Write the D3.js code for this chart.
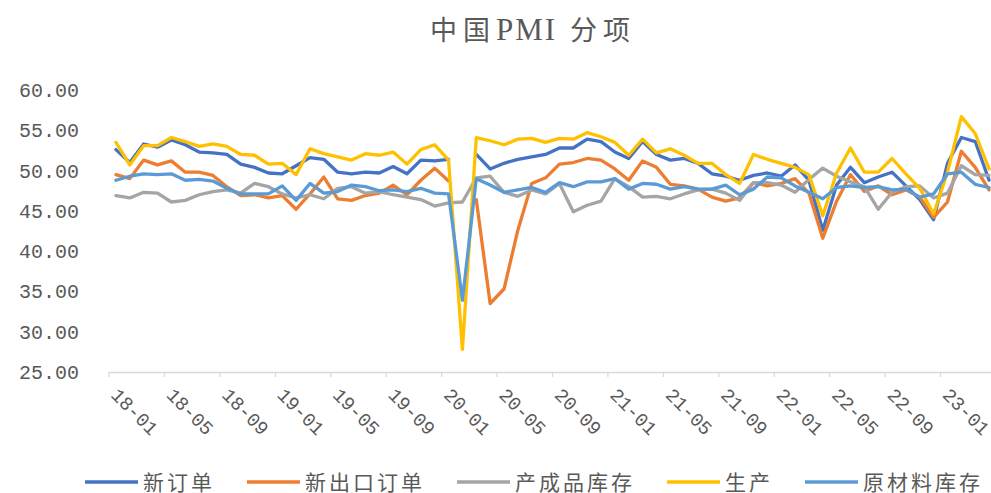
<!DOCTYPE html>
<html>
<head>
<meta charset="utf-8">
<script src="https://cdn.jsdelivr.net/npm/d3@7"></script>
<style>
  body { margin: 0; background: #fff; }
  svg { display: block; }
</style>
</head>
<body>
<script>
// monthly categories, 2018-01 .. 2023-04
var months = d3.timeMonth.range(new Date(2018, 0, 1), new Date(2023, 4, 1)).map(d3.timeFormat('%y-%m'));

var seriesNames = ['新订单', '新出口订单', '产成品库存', '生产', '原材料库存'];
var seriesColors = ['#4472C4', '#ED7D31', '#A5A5A5', '#FFC000', '#5B9BD5'];

var newOrders = [
  52.6, 51.0, 53.3, 52.9, 53.8, 53.2, 52.3, 52.2, 52.0, 50.8, 50.4, 49.7,
  49.6, 50.6, 51.6, 51.4, 49.8, 49.6, 49.8, 49.7, 50.5, 49.6, 51.3, 51.2,
  51.4, null, 52.0, 50.2, 50.9, 51.4, 51.7, 52.0, 52.8, 52.8, 53.9, 53.6,
  52.3, 51.5, 53.6, 52.0, 51.3, 51.5, 50.9, 49.6, 49.3, 48.8, 49.4, 49.7,
  49.3, 50.7, 48.8, 42.6, 48.2, 50.4, 48.5, 49.2, 49.8, 48.1, 46.4, 43.9,
  50.9, 54.1, 53.6, 48.8
];
var newExportOrders = [
  49.5, 49.0, 51.3, 50.7, 51.2, 49.8, 49.8, 49.4, 48.0, 46.9, 47.0, 46.6,
  46.9, 45.2, 47.1, 49.2, 46.5, 46.3, 46.9, 47.2, 48.2, 47.0, 48.8, 50.3,
  48.7, null, 46.4, 33.5, 35.3, 42.6, 48.4, 49.1, 50.8, 51.0, 51.5, 51.3,
  50.2, 48.8, 51.2, 50.4, 48.3, 48.1, 47.7, 46.7, 46.2, 46.6, 48.5, 48.1,
  48.4, 49.0, 47.2, 41.6, 46.2, 49.5, 47.4, 48.1, 47.0, 47.6, 46.7, 44.2,
  46.1, 52.4, 50.4, 47.6
];
var finishedStock = [
  46.9, 46.6, 47.3, 47.2, 46.1, 46.3, 47.0, 47.4, 47.6, 47.2, 48.4, 48.0,
  47.1, 46.6, 47.0, 46.5, 47.8, 48.0, 47.2, 47.4, 47.0, 46.7, 46.4, 45.6,
  46.0, 46.1, 49.1, 49.3, 47.3, 46.8, 47.6, 47.1, 48.4, 44.9, 45.7, 46.2,
  49.0, 48.0, 46.7, 46.8, 46.5, 47.1, 47.6, 47.7, 47.2, 46.3, 48.5, 48.5,
  48.2, 47.3, 48.9, 50.3, 49.3, 48.6, 48.0, 45.2, 47.3, 48.0, 48.1, 46.6,
  47.2, 50.6, 49.5, 49.4
];
var production = [
  53.5, 50.7, 53.1, 53.1, 54.1, 53.6, 53.0, 53.3, 53.0, 52.0, 51.9, 50.8,
  50.9, 49.5, 52.7, 52.1, 51.7, 51.3, 52.1, 51.9, 52.3, 50.8, 52.6, 53.2,
  51.3, 27.8, 54.1, 53.7, 53.2, 53.9, 54.0, 53.5, 54.0, 53.9, 54.7, 54.2,
  53.5, 51.9, 53.9, 52.2, 52.7, 51.9, 50.9, 50.9, 49.5, 48.4, 52.0, 51.4,
  50.9, 50.4, 49.5, 44.4, 49.7, 52.8, 49.8, 49.8, 51.5, 49.6, 47.8, 44.6,
  49.8, 56.7, 54.6, 50.2
];
var rawStock = [
  48.8, 49.3, 49.6, 49.5, 49.6, 48.8, 48.9, 48.7, 47.8, 47.1, 47.1, 47.1,
  48.1, 46.3, 48.4, 47.2, 47.4, 48.2, 48.0, 47.5, 47.6, 47.4, 47.8, 47.2,
  47.1, 33.9, 49.0, 48.2, 47.3, 47.6, 47.9, 47.3, 48.5, 48.0, 48.6, 48.6,
  49.0, 47.7, 48.4, 48.3, 47.7, 48.0, 47.7, 47.7, 48.2, 47.0, 47.7, 49.2,
  49.1, 48.1, 47.3, 46.5, 47.9, 48.1, 47.9, 48.0, 47.6, 47.7, 46.7, 47.1,
  49.6, 49.8, 48.3, 47.9
];
var yTicks = [25, 30, 35, 40, 45, 50, 55, 60];

var allSeries = [newOrders, newExportOrders, finishedStock, production, rawStock];

var width = 991, height = 493;
var plotLeft = 109, plotRight = 996, plotTop = 90, plotBottom = 372;
var textColor = '#595959';
var monoFont = '"Liberation Mono", "DejaVu Sans Mono", monospace';
var cjkFont = '"Liberation Serif", "Noto Sans CJK SC", serif';

var svg = d3.select('body').append('svg')
  .attr('width', width)
  .attr('height', height);

var x = d3.scaleBand().domain(months).range([plotLeft, plotRight]).padding(0);
var y = d3.scaleLinear().domain([25, 60]).range([plotBottom, plotTop]);
var bw = x.bandwidth();

// title: CJK spaced out a bit, latin kept tight
var title = svg.append('text')
  .attr('x', 533)
  .attr('y', 40)
  .attr('text-anchor', 'middle')
  .attr('font-family', cjkFont)
  .attr('font-size', 27)
  .attr('fill', textColor);
title.append('tspan').attr('letter-spacing', 6).text('中国');
title.append('tspan').attr('font-size', 31).attr('letter-spacing', 2).text('PMI');
title.append('tspan').attr('letter-spacing', 6).text(' 分项');

// y labels (no gridlines in the original)
svg.selectAll('.ylab')
  .data(yTicks)
  .enter()
  .append('text')
  .attr('class', 'ylab')
  .attr('x', 79)
  .attr('y', function (d) { return y(d); })
  .attr('dy', '0.35em')
  .attr('text-anchor', 'end')
  .attr('font-family', monoFont)
  .attr('font-size', 20)
  .attr('fill', textColor)
  .text(function (d) { return d.toFixed(2); });

// x axis, ticks between categories every 4 months
var tickMonths = months.filter(function (d, i) { return i % 4 === 0; });
var xAxis = d3.axisBottom(x).tickValues(tickMonths).tickSize(5).tickSizeOuter(0);
var gx = svg.append('g')
  .attr('transform', 'translate(0,' + plotBottom + ')')
  .call(xAxis);
gx.select('.domain').attr('stroke', '#D9D9D9').attr('stroke-width', 1.3);
gx.selectAll('.tick line')
  .attr('stroke', '#D9D9D9')
  .attr('stroke-width', 1.3)
  .attr('x1', -bw / 2).attr('x2', -bw / 2);
gx.selectAll('.tick text')
  .attr('font-family', monoFont)
  .attr('font-size', 19)
  .attr('fill', textColor)
  .attr('text-anchor', 'start')
  .attr('y', 0)
  .attr('dy', 0)
  .attr('transform', 'translate(' + (-bw / 2 + 1) + ',24) rotate(45)');

// lines
var line = d3.line()
  .defined(function (d) { return d != null; })
  .x(function (d, i) { return x(months[i]) + bw / 2; })
  .y(function (d) { return y(d); });

svg.selectAll('.series')
  .data(allSeries)
  .enter()
  .append('path')
  .attr('class', 'series')
  .attr('fill', 'none')
  .attr('stroke', function (d, i) { return seriesColors[i]; })
  .attr('stroke-width', 3.3)
  .attr('stroke-linejoin', 'round')
  .attr('stroke-linecap', 'round')
  .attr('d', line);

// legend
var legend = svg.append('g').attr('transform', 'translate(85,482)');
var lx = 0;
seriesNames.forEach(function (name, i) {
  var g = legend.append('g').attr('transform', 'translate(' + lx + ',0)');
  g.append('line')
    .attr('x1', 0).attr('x2', 53)
    .attr('stroke', seriesColors[i])
    .attr('stroke-width', 3.3);
  var t = g.append('text')
    .attr('x', 58)
    .attr('dy', '0.36em')
    .attr('font-family', cjkFont)
    .attr('font-size', 21)
    .attr('letter-spacing', 3)
    .attr('fill', textColor)
    .text(name);
  lx += 58 + t.node().getComputedTextLength() + 32;
});
</script>
</body>
</html>
